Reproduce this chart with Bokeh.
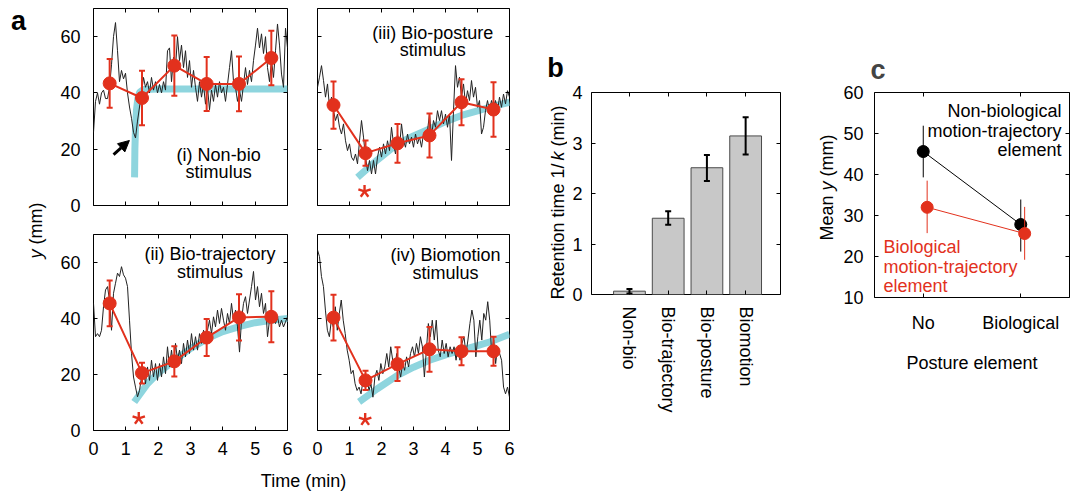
import numpy as np
from bokeh.plotting import figure
from bokeh.layouts import row, column
from bokeh.models import Range1d, FixedTicker, LinearAxis, Arrow, NormalHead
from bokeh.core.properties import value
from bokeh.embed import file_html
from bokeh.resources import INLINE

FONT = "Liberation Sans"
RED = "#e2311d"
CYAN = "#8ed5de"
TRACE = "#222222"

# ---------------- Panel a data ----------------
trace_i = [26, 37, 40, 36, 40, 41, 38, 38, 42, 50, 60, 65, 55, 44, 48, 45, 47, 40, 35, 31, 26,
           24, 30, 35, 40, 45.5, 42, 44, 40, 45.5, 41, 44, 40, 43, 40, 44, 41, 55, 56, 44, 52.7,
           49, 60, 51.5, 57, 49, 55, 45.5, 51.5, 42, 48, 42, 37, 44, 38.5, 43, 36, 42, 34, 41, 37,
           43, 38.5, 44, 40, 42, 37, 43, 49, 55, 44, 42, 37, 41, 37, 43, 49, 43, 48, 44, 51.5,
           57, 63, 56, 61, 54, 60, 49, 44, 51.5, 45.5, 55, 64.5, 57, 46.7, 42, 63, 56]
trace_ii = [45.4, 33.5, 34.6, 33.5, 35.8, 44.2, 50.2, 51.4, 46.6, 35.8,
            49, 52.6, 56.2, 55, 58.5, 55.6, 54.4, 51.4, 39.4, 27.5,
            19.1, 15.5, 12, 14.3, 19.1, 21.5, 16.7, 22.7, 17.9, 25.1,
            19.1, 23.9, 17.9, 23.9, 19.1, 26.3, 20.3, 29.9, 22.7, 28.7,
            22.7, 31.1, 25.1, 28.7, 23.9, 31.1, 26.3, 32.3, 27.5, 34.6,
            28.7, 33.5, 28.7, 34.6, 31.1, 35.8, 31.1, 35.8, 39.4, 34.6,
            40.6, 37, 43, 38.2, 43.6, 39.4, 35.8, 41.8, 38.2, 45.4,
            39.4, 43, 37, 28, 39.4, 45.4, 47.8, 41.8, 46.6, 51.4,
            56.8, 46.6, 51.4, 44.2, 49, 41.8, 45.4, 33.5, 39.4, 43,
            39.4, 38.2, 40.6, 37, 39.4, 37, 38.8, 40.6]
trace_iii = [42, 45.6, 49.7, 44.4, 38.5, 43.2, 34.9, 38.5, 33.7, 30.2,
             32.5, 27.8, 25.4, 29, 23, 19.5, 21.9, 17.2, 16, 18.3,
             14.8, 23, 30.2, 24.3, 17.2, 12.4, 16, 11.2, 16, 11.2,
             17.2, 20.7, 17.2, 21.9, 18.3, 23, 19.5, 27.8, 21.9, 18.3,
             25.4, 20.7, 29, 23, 20.7, 25.4, 21.9, 24.3, 20.7, 25.4,
             21.9, 24.3, 20.7, 25.4, 23, 26.6, 32.5, 24.3, 30.2, 27.8,
             33.7, 30.2, 33.7, 29, 32.5, 27.8, 32.5, 16, 33.7, 49.7,
             42, 45.6, 38.5, 43.2, 36.1, 40.8, 37.3, 44.4, 38.5, 42,
             34.9, 37.3, 25.4, 27.8, 33.7, 37.3, 33.7, 37.3, 34.9, 37.3,
             33.7, 38.5, 34.9, 39.6, 36.1, 40.8, 38.5]
trace_iv = [64.5, 62.1, 55, 51.4, 43, 35.8, 33.5, 39.4, 37, 44.2,
            35.8, 41.8, 46.6, 39.4, 34.6, 28.7, 25.1, 20.3, 21.5, 16.7,
            14.3, 15.5, 13.1, 17.9, 15.5, 19.1, 14.3, 16.7, 11.9, 19.1,
            21.5, 17.9, 23.9, 20.3, 22.7, 27.5, 22.7, 29.9, 25.1, 21.5,
            27.5, 22.7, 19.1, 23.9, 21.5, 26.3, 22.7, 27.5, 29.9, 26.3,
            31.1, 27.5, 33.5, 29.9, 19.1, 28.7, 38.2, 33.5, 39.4, 32.3,
            39.4, 28.7, 26.3, 32.3, 27.5, 31.1, 26.3, 29.9, 27.5, 29.9,
            25.1, 29.9, 25.1, 31.1, 33.5, 27.5, 32.3, 38.2, 43, 39.4,
            26.3, 33.5, 39.4, 32.3, 41.8, 39.4, 46, 39.4, 27.5, 32.3,
            23.9, 29.9, 27.5, 25.1, 15.5, 13.1, 15.5, 11.9]

bin_t = [0.5, 1.5, 2.5, 3.5, 4.5, 5.5]
mean_i = [43.4, 38.2, 49.7, 43.2, 43.2, 52.4]
err_i = [8.7, 9.7, 10.7, 9.6, 9.7, 9.7]
mean_ii = [45.4, 20.5, 24.7, 33.2, 40.4, 40.6]
err_ii = [8.2, 3.7, 5.4, 6.6, 8.3, 9.1]
mean_iii = [35.7, 18.6, 22.1, 24.9, 36.7, 34.1]
err_iii = [8.4, 4.5, 6.9, 7.8, 8.2, 9.7]
mean_iv = [40.3, 17.9, 23.7, 29.0, 28.3, 28.3]
err_iv = [8.2, 3.4, 6.0, 8.0, 5.0, 5.2]

fit_i_t = [1.27, 1.28, 1.30, 1.33, 1.37, 1.43, 1.55, 2.0, 6.0]
fit_i_y = [10, 20, 28, 34, 38, 40.3, 41.2, 41.4, 41.4]
fit_ii_t = [1.26, 1.67, 2.0, 2.5, 3.0, 3.53, 4.0, 4.56, 5.0, 5.5, 6.0]
fit_ii_y = [10.2, 16.7, 20.5, 25.0, 29.3, 32.9, 35.3, 37.3, 38.5, 39.4, 40.0]
fit_iii_t = [1.25, 1.87, 2.5, 3.0, 3.5, 4.0, 4.5, 5.0, 5.4, 6.0]
fit_iii_y = [10.0, 16.2, 21.9, 24.7, 27.2, 29.8, 32.0, 33.6, 35.0, 36.7]
fit_iv_t = [1.3, 1.87, 2.5, 3.0, 3.5, 4.0, 4.5, 5.0, 5.4, 6.0]
fit_iv_y = [10.2, 14.9, 19.7, 22.6, 25.1, 27.0, 28.7, 30.3, 31.7, 34.4]

# significance asterisk positions (time, y)
star_ii = (1.40, 4.3)
star_iii = (1.47, 5.0)
star_iv = (1.49, 3.9)
STAR_ANGLES = [np.pi / 2 + k * 2 * np.pi / 5 for k in range(5)]

labels_i = ["(i) Non-bio", "stimulus"]
labels_ii = ["(ii) Bio-trajectory", "stimulus"]
labels_iii = ["(iii) Bio-posture", "stimulus"]
labels_iv = ["(iv) Biomotion", "stimulus"]

time_ticks = [0, 1, 2, 3, 4, 5, 6]
y_ticks_a = [0, 20, 40, 60]

# ---------------- Panel b data ----------------
b_cats = ["Non-bio", "Bio-trajectory", "Bio-posture", "Biomotion"]
b_pos = [1, 2, 3, 4]
b_vals = [0.066, 1.51, 2.51, 3.14]
b_lo = [0.02, 1.38, 2.25, 2.77]
b_hi = [0.11, 1.65, 2.76, 3.51]
b_yticks = [0, 1, 2, 3, 4]

# ---------------- Panel c data ----------------
c_cats = ["No", "Biological"]
c_pos = [1, 2]
c_black = [45.6, 27.8]
c_black_lo = [39.3, 21.2]
c_black_hi = [51.9, 33.9]
c_red = [32.0, 25.6]
c_red_lo = [25.7, 19.2]
c_red_hi = [38.5, 32.1]
c_red_shift = 0.04
c_yticks = [10, 20, 30, 40, 50, 60]
c_black_text = ["Non-biological", "motion-trajectory", "element"]
c_red_text = ["Biological", "motion-trajectory", "element"]


def style_axis(ax, ticks, labels=True, overrides=None):
    ax.ticker = FixedTicker(ticks=ticks)
    ax.axis_line_color = None
    ax.major_tick_in = 4
    ax.major_tick_out = 0
    ax.major_tick_line_color = "black"
    ax.minor_tick_line_color = None
    ax.major_label_text_font = FONT
    ax.major_label_text_color = "black"
    ax.axis_label_text_font = FONT
    ax.axis_label_text_font_style = "normal"
    ax.axis_label_text_font_size = "18px"
    ax.axis_label_text_color = "black"
    if labels:
        ax.major_label_text_font_size = "18px"
        if overrides:
            ax.major_label_overrides = overrides
    else:
        ax.major_label_text_font_size = "0px"
        ax.major_label_standoff = 0
        ax.major_label_overrides = {t: "" for t in ticks}


def boxed(p, xticks, yticks, xlab, ylab, xover=None):
    p.outline_line_color = "black"
    p.outline_line_width = 1
    p.xgrid.visible = False
    p.ygrid.visible = False
    p.background_fill_color = "white"
    p.border_fill_color = "white"
    xb = p.below[0]
    yl = p.left[0]
    style_axis(xb, xticks, xlab, xover)
    style_axis(yl, yticks, ylab)
    top = LinearAxis()
    right = LinearAxis()
    style_axis(top, xticks, False)
    style_axis(right, yticks, False)
    p.add_layout(top, "above")
    p.add_layout(right, "right")
    return xb, yl


def add_star(p, pos):
    n = len(STAR_ANGLES)
    p.ray(x=[pos[0]] * n, y=[pos[1]] * n, length=6.5, length_units="screen",
          angle=STAR_ANGLES, line_color=RED, line_width=2.4)


def panel_a(trace, mean, err, fit_t, fit_y, labels, lab_x, lab_y, xlab, ylab,
            w, h, bl, br, bt, bb, star=None):
    p = figure(width=w, height=h, x_range=Range1d(0, 6), y_range=Range1d(0, 70),
               min_border_left=bl, min_border_right=br, min_border_top=bt,
               min_border_bottom=bb, toolbar_location=None, output_backend="svg")
    xb, yl = boxed(p, time_ticks, y_ticks_a, xlab, ylab)
    if ylab:
        yl.major_label_standoff = 13
    if xlab:
        xb.major_label_standoff = 11
    t = np.linspace(0, 6, len(trace))
    p.line(fit_t, fit_y, line_color=CYAN, line_width=7)
    p.line(t, trace, line_color=TRACE, line_width=1)
    lo = [m - e for m, e in zip(mean, err)]
    hi = [m + e for m, e in zip(mean, err)]
    p.segment(x0=bin_t, y0=lo, x1=bin_t, y1=hi, line_color=RED, line_width=2)
    p.scatter(bin_t, lo, marker="dash", size=6, line_color=RED, line_width=2)
    p.scatter(bin_t, hi, marker="dash", size=6, line_color=RED, line_width=2)
    p.line(bin_t, mean, line_color=RED, line_width=2)
    p.scatter(bin_t, mean, size=13, fill_color=RED, line_color=RED)
    p.text(x=[lab_x, lab_x], y=lab_y, text=labels, text_font=value(FONT),
           text_font_size="18px", text_align="center", text_baseline="middle",
           text_color="black")
    if star is not None:
        add_star(p, star)
    return p


# Panel a layout: frames TL 93-287 x 8-205, TR 317-509, BL/BR 234-430
tl = panel_a(trace_i, mean_i, err_i, fit_i_t, fit_i_y, labels_i, 3.87, [18.1, 11.8],
             False, True, 247, 219, 38, 15, 8, 14)
tl.add_layout(Arrow(end=NormalHead(size=11, fill_color="black", line_color="black"),
                    x_start=0.62, y_start=18.1, x_end=1.11, y_end=23.1,
                    line_width=3, line_color="black"))
tr = panel_a(trace_iii, mean_iii, err_iii, fit_iii_t, fit_iii_y, labels_iii, 3.6,
             [61.3, 55.3], False, False, 218, 219, 15, 11, 8, 14, star=star_iii)
bl = panel_a(trace_ii, mean_ii, err_ii, fit_ii_t, fit_ii_y, labels_ii, 3.6,
             [63.0, 56.7], True, True, 247, 245, 38, 15, 15, 34, star=star_ii)
br = panel_a(trace_iv, mean_iv, err_iv, fit_iv_t, fit_iv_y, labels_iv, 4.0,
             [62.7, 56.2], True, False, 218, 245, 15, 11, 15, 34, star=star_iv)


def strip(w, h):
    s = figure(width=w, height=h, x_range=Range1d(0, w), y_range=Range1d(0, h),
               min_border=0, toolbar_location=None, output_backend="svg",
               x_axis_location=None, y_axis_location=None)
    s.outline_line_color = None
    s.xgrid.visible = False
    s.ygrid.visible = False
    s.border_fill_color = "white"
    s.background_fill_color = "white"
    return s


def stext(s, x, y, txt, size="18px", style="normal", angle=0.0, align="left"):
    s.text(x=[x], y=[s.y_range.end - y], text=[txt], angle=angle, text_font=value(FONT),
           text_font_size=size, text_font_style=style, text_align=align,
           text_baseline="middle", text_color="black")


# strip left of panel a: panel letter and shared y title
left = strip(55, 494)
stext(left, 18, 20, "a", size="27px", style="bold", align="center")
stext(left, 35, 258, "y", style="italic", angle=np.pi / 2)
stext(left, 35, 244, "(mm)", angle=np.pi / 2)

time_strip = strip(465, 30)
stext(time_strip, 303 - 55, 16, "Time (min)", align="center")

# ---------------- Panel b ----------------
b_strip = strip(47, 494)
stext(b_strip, 35, 67, "b", size="27px", style="bold", align="center")
stext(b_strip, 37, 299, "Retention time 1/", angle=np.pi / 2)
stext(b_strip, 37, 160, "k", style="italic", angle=np.pi / 2)
stext(b_strip, 37, 146, "(min)", angle=np.pi / 2)

pb = figure(width=227, height=494, x_range=Range1d(0.02, 4.9), y_range=Range1d(0, 4),
            min_border_left=24, min_border_right=14, min_border_top=92,
            min_border_bottom=200, toolbar_location=None, output_backend="svg")
bxb, byl = boxed(pb, b_pos, b_yticks, True, True, {p_: c for p_, c in zip(b_pos, b_cats)})
bxb.major_label_orientation = "vertical"
bxb.major_label_standoff = 12
byl.major_label_standoff = 9
pb.vbar(x=b_pos, top=b_vals, width=0.82, fill_color="#c8c8c8", line_color="#4a4a4a",
        line_width=1)
pb.segment(x0=b_pos, y0=b_lo, x1=b_pos, y1=b_hi, line_color="black", line_width=2)
pb.scatter(b_pos, b_lo, marker="dash", size=6, line_color="black", line_width=2)
pb.scatter(b_pos, b_hi, marker="dash", size=6, line_color="black", line_width=2)

# ---------------- Panel c ----------------
c_strip = strip(46, 494)
stext(c_strip, 32, 240, "Mean", angle=np.pi / 2)
stext(c_strip, 32, 190, "y", style="italic", angle=np.pi / 2)
stext(c_strip, 32, 176, "(mm)", angle=np.pi / 2)

pc = figure(width=238, height=494, x_range=Range1d(0.5, 2.5), y_range=Range1d(10, 60),
            min_border_left=34, min_border_right=9, min_border_top=92,
            min_border_bottom=197, toolbar_location=None, output_backend="svg")
cxb, cyl = boxed(pc, c_pos, c_yticks, True, True, {p_: c for p_, c in zip(c_pos, c_cats)})
cxb.major_label_standoff = 15
cxb.axis_label = "Posture element"
cxb.axis_label_standoff = 17
cyl.major_label_standoff = 11
red_x = [x + c_red_shift for x in c_pos]
pc.line(c_pos, c_black, line_color="black", line_width=1)
pc.segment(x0=c_pos, y0=c_black_lo, x1=c_pos, y1=c_black_hi, line_color="black",
           line_width=1)
pc.scatter(c_pos, c_black, size=12, fill_color="black", line_color="black")
pc.line(red_x, c_red, line_color=RED, line_width=1)
pc.segment(x0=red_x, y0=c_red_lo, x1=red_x, y1=c_red_hi, line_color=RED, line_width=1)
pc.scatter(red_x, c_red, size=12, fill_color=RED, line_color=RED)
pc.text(x=[2.418] * 3, y=[55.4, 50.5, 45.9], text=c_black_text, text_font=value(FONT),
        text_font_size="18px", text_align="right", text_baseline="middle",
        text_color="black")
pc.text(x=[0.592] * 3, y=[22.3, 17.4, 12.7], text=c_red_text, text_font=value(FONT),
        text_font_size="18px", text_align="left", text_baseline="middle",
        text_color=RED)
pc.title.text = "c"
pc.title.text_font = FONT
pc.title.text_font_size = "27px"
pc.title.text_font_style = "bold"
pc.title.align = "left"
pc.title.offset = -4
pc.title.standoff = 15

panel_a_col = column(row(tl, tr), row(bl, br), time_strip)
layout = row(row(left, panel_a_col), row(b_strip, column(pb)), row(c_strip, column(pc)))

open("out.html", "w").write(file_html(layout, INLINE))
